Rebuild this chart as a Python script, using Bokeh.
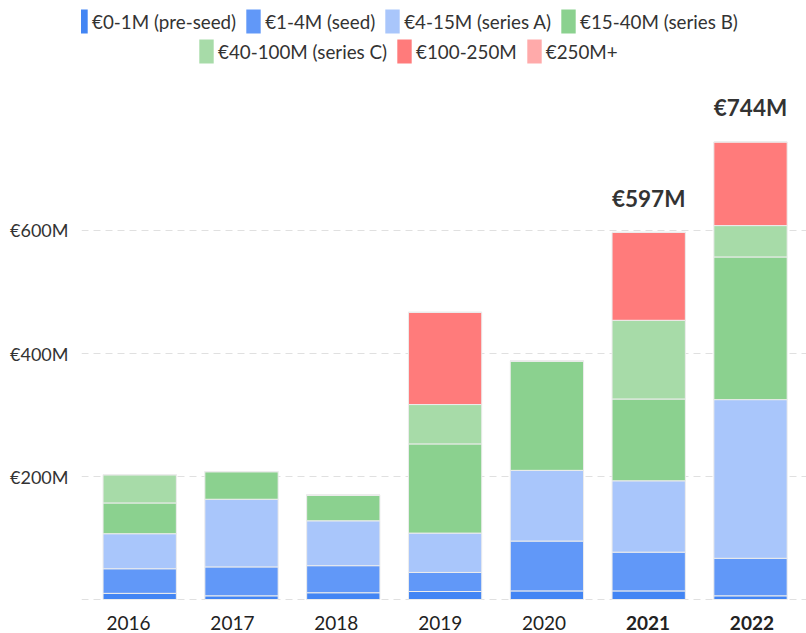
from bokeh.plotting import figure
from bokeh.models import (ColumnDataSource, Range1d, FixedTicker, Legend, LegendItem)
from bokeh.core.properties import value
from bokeh.embed import file_html
from bokeh.resources import INLINE

# ---- data ----
years = ["2016", "2017", "2018", "2019", "2020", "2021", "2022"]
pre_seed = [10, 6, 11, 13, 14, 14, 6]
seed = [40, 47, 44, 31, 81, 63, 61]
series_a = [57, 110, 73, 64, 115, 116, 258]
series_b = [50, 45, 42, 145, 178, 133, 232]
series_c = [46, 0, 0, 64, 0, 128, 51]
m100_250 = [0, 0, 0, 150, 0, 143, 136]
m250_plus = [0, 0, 0, 0, 0, 0, 0]
highlight_years = ["2021", "2022"]

series_names = ["€0-1M (pre-seed)", "€1-4M (seed)", "€4-15M (series A)", "€15-40M (series B)",
                "€40-100M (series C)", "€100-250M", "€250M+"]
series_keys = ["pre_seed", "seed", "series_a", "series_b", "series_c", "m100_250", "m250_plus"]
colors = ["#4285f4", "#6198f8", "#a9c6fb", "#8bd18f", "#a7dba8", "#ff7b7b", "#ffaaaa"]

y_ticks = [200, 400, 600]
y_tick_labels = ["€200M", "€400M", "€600M"]
grid_ticks = [0, 200, 400, 600]

FONT = "Lato"
NAN = float("nan")

idx = list(range(len(years)))
data = dict(x=idx, pre_seed=pre_seed, seed=seed, series_a=series_a, series_b=series_b,
            series_c=series_c, m100_250=m100_250, m250_plus=m250_plus)
src = ColumnDataSource(data)

p = figure(width=806, height=633, output_backend="svg", toolbar_location=None,
           x_axis_type=None, min_border_left=81, min_border_right=0,
           min_border_top=0, min_border_bottom=0,
           x_range=Range1d(-0.5717, 6.5501), y_range=Range1d(-55.28, 973.98))
p.extra_x_ranges = {"labels": Range1d(-0.4524, 6.5255)}
p.outline_line_color = None
p.background_fill_color = "white"
p.border_fill_color = "white"

renderers = p.vbar_stack(series_keys, x="x", width=0.72, source=src, color=colors,
                         line_color="#ececec", line_width=1)

# y axis
p.yaxis.ticker = FixedTicker(ticks=y_ticks)
p.yaxis.major_label_overrides = {t: l for t, l in zip(y_ticks, y_tick_labels)}
p.yaxis.axis_line_color = None
p.yaxis.major_tick_line_color = None
p.yaxis.minor_tick_line_color = None
p.yaxis.major_label_standoff = 7
p.yaxis.major_label_text_font = FONT
p.yaxis.major_label_text_font_size = "18px"
p.yaxis.major_label_text_color = "#333333"

p.xgrid.visible = False
p.ygrid.ticker = FixedTicker(ticks=grid_ticks)
p.ygrid.grid_line_color = "#e0e0e0"
p.ygrid.grid_line_dash = "7 5"
p.ygrid.grid_line_width = 1

# x labels
lab_src = ColumnDataSource(dict(
    x=idx, y=[0] * len(years), text=years,
    style=["bold" if y in highlight_years else "normal" for y in years]))
p.text(x="x", y="y", text="text", source=lab_src, x_range_name="labels",
       text_font=value(FONT), text_font_size="19px", text_font_style="style",
       text_align="center", text_baseline="alphabetic", y_offset=23, text_color="#222222")

# totals above highlighted years
totals = [a + b + c + d + e + f + g for a, b, c, d, e, f, g in
          zip(pre_seed, seed, series_a, series_b, series_c, m100_250, m250_plus)]
hx = [i for i, y in enumerate(years) if y in highlight_years]
tot_src = ColumnDataSource(dict(x=hx, y=[totals[i] for i in hx],
                                text=["€%dM" % totals[i] for i in hx]))
p.text(x="x", y="y", text="text", source=tot_src, text_font=value(FONT),
       text_font_size="22.5px", text_font_style="bold", text_align="center",
       text_baseline="alphabetic", y_offset=-34, text_color="#333333")

# legend swatches: renderers with no drawable geometry, carrying the series colours
swatches = [p.quad(left=[NAN], right=[NAN], top=[NAN], bottom=[NAN],
                   fill_color=c, line_color=None) for c in colors]
items = [LegendItem(label=n, renderers=[r]) for n, r in zip(series_names, swatches)]
common = dict(orientation="horizontal", glyph_width=18, glyph_height=30, label_height=22,
              label_standoff=3, spacing=8, padding=0, margin=0,
              border_line_color=None, background_fill_alpha=0,
              label_text_font=FONT, label_text_font_size="18.8px", label_text_color="#333333")
leg1 = Legend(items=items[:4], location=(-10, 597), **common)
leg2 = Legend(items=items[4:], location=(116, 567), **common)
p.add_layout(leg1)
p.add_layout(leg2)

open("out.html", "w").write(file_html(p, INLINE))
